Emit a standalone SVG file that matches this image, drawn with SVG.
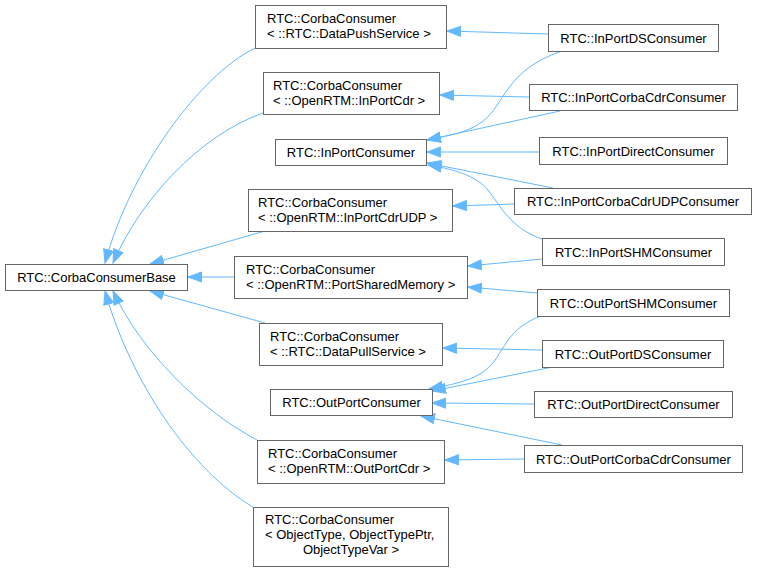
<svg xmlns="http://www.w3.org/2000/svg" width="757" height="571" viewBox="0 0 757 571">
<defs>
<marker id="a" markerWidth="15" markerHeight="12" refX="14" refY="6" orient="auto" markerUnits="userSpaceOnUse">
<path d="M0.5,1 L14,6 L0.5,11 z" fill="#63b8ff" stroke="#63b8ff" stroke-width="1"/>
</marker>
</defs>
<style>
rect{fill:#fff;stroke:#666;stroke-width:1}
text{font-family:"Liberation Sans",Arial,sans-serif;font-size:13px;fill:#000}
.c{text-anchor:middle}
#edges path{fill:none;stroke:#63b8ff;stroke-width:1;marker-end:url(#a)}
</style>
<rect x="0" y="0" width="757" height="571" style="fill:#fff;stroke:none"/>
<g id="edges">
<path d="M255,48 C200,75 130,170 105,263"/>
<path d="M263,113 C200,135 140,200 113,263"/>
<path d="M265,231 L150,264"/>
<path d="M234,277 L188,277"/>
<path d="M265,323 L150,291"/>
<path d="M257,440 C200,410 140,350 113,291"/>
<path d="M253,507 C190,470 130,380 105,291"/>
<path d="M548,34 L447,31"/>
<path d="M529,97 L440,95"/>
<path d="M562,51 C505,70 505,105 482,122 C468,132 452,135 427,140"/>
<path d="M560,111 L427,140"/>
<path d="M539,152 L427,152"/>
<path d="M553,188 L427,163"/>
<path d="M542,239 C510,228 500,205 488,190 C478,178 460,170 428,165"/>
<path d="M514,204 L453,206"/>
<path d="M542,259 L468,266"/>
<path d="M537,293 L468,287"/>
<path d="M542,350 L443,348"/>
<path d="M541,316 C500,331 505,360 480,374 C466,382 450,385 429,389"/>
<path d="M553,367 L432,391"/>
<path d="M534,404 L432,403"/>
<path d="M562,445 L421,416"/>
<path d="M524,459 L445,460"/>
</g>
<g id="base"><rect x="5.5" y="264.5" width="182" height="26"/><text class="c" x="96.5" y="282">RTC::CorbaConsumerBase</text></g>
<g id="n1"><rect x="255.5" y="5.5" width="191" height="43"/><text x="267" y="23">RTC::CorbaConsumer</text><text x="267" y="38">&lt; ::RTC::DataPushService &gt;</text></g>
<g id="n2"><rect x="263.5" y="72.5" width="176" height="42"/><text x="273" y="90">RTC::CorbaConsumer</text><text x="273" y="105">&lt; ::OpenRTM::InPortCdr &gt;</text></g>
<g id="n3"><rect x="275.5" y="139.5" width="151" height="26"/><text class="c" x="351" y="157">RTC::InPortConsumer</text></g>
<g id="n4"><rect x="248.5" y="189.5" width="204" height="42"/><text x="258" y="207">RTC::CorbaConsumer</text><text x="258" y="222">&lt; ::OpenRTM::InPortCdrUDP &gt;</text></g>
<g id="n5"><rect x="234.5" y="256.5" width="233" height="42"/><text x="246" y="274">RTC::CorbaConsumer</text><text x="246" y="289">&lt; ::OpenRTM::PortSharedMemory &gt;</text></g>
<g id="n6"><rect x="259.5" y="323.5" width="183" height="42"/><text x="270" y="341">RTC::CorbaConsumer</text><text x="270" y="356">&lt; ::RTC::DataPullService &gt;</text></g>
<g id="n7"><rect x="270.5" y="389.5" width="162" height="26"/><text class="c" x="351.5" y="407">RTC::OutPortConsumer</text></g>
<g id="n8"><rect x="257.5" y="440.5" width="187" height="43"/><text x="268" y="458">RTC::CorbaConsumer</text><text x="268" y="473">&lt; ::OpenRTM::OutPortCdr &gt;</text></g>
<g id="n9"><rect x="253.5" y="507.5" width="195" height="59"/><text x="265" y="524">RTC::CorbaConsumer</text><text x="265" y="539">&lt; ObjectType, ObjectTypePtr,</text><text class="c" x="351" y="554">ObjectTypeVar &gt;</text></g>
<g id="r1"><rect x="548.5" y="24.5" width="170" height="27"/><text class="c" x="633.5" y="42.5">RTC::InPortDSConsumer</text></g>
<g id="r2"><rect x="529.5" y="84.5" width="208" height="26"/><text class="c" x="633.5" y="102">RTC::InPortCorbaCdrConsumer</text></g>
<g id="r3"><rect x="539.5" y="137.5" width="188" height="27"/><text class="c" x="633.5" y="155.5">RTC::InPortDirectConsumer</text></g>
<g id="r4"><rect x="514.5" y="188.5" width="237" height="26"/><text class="c" x="633" y="206">RTC::InPortCorbaCdrUDPConsumer</text></g>
<g id="r5"><rect x="542.5" y="238.5" width="182" height="27"/><text class="c" x="633.5" y="256.5">RTC::InPortSHMConsumer</text></g>
<g id="r6"><rect x="537.5" y="289.5" width="192" height="27"/><text class="c" x="633.5" y="307.5">RTC::OutPortSHMConsumer</text></g>
<g id="r7"><rect x="542.5" y="340.5" width="181" height="27"/><text class="c" x="633" y="358.5">RTC::OutPortDSConsumer</text></g>
<g id="r8"><rect x="534.5" y="391.5" width="198" height="26"/><text class="c" x="633.5" y="409">RTC::OutPortDirectConsumer</text></g>
<g id="r9"><rect x="524.5" y="445.5" width="218" height="27"/><text class="c" x="633.5" y="463.5">RTC::OutPortCorbaCdrConsumer</text></g>
</svg>
